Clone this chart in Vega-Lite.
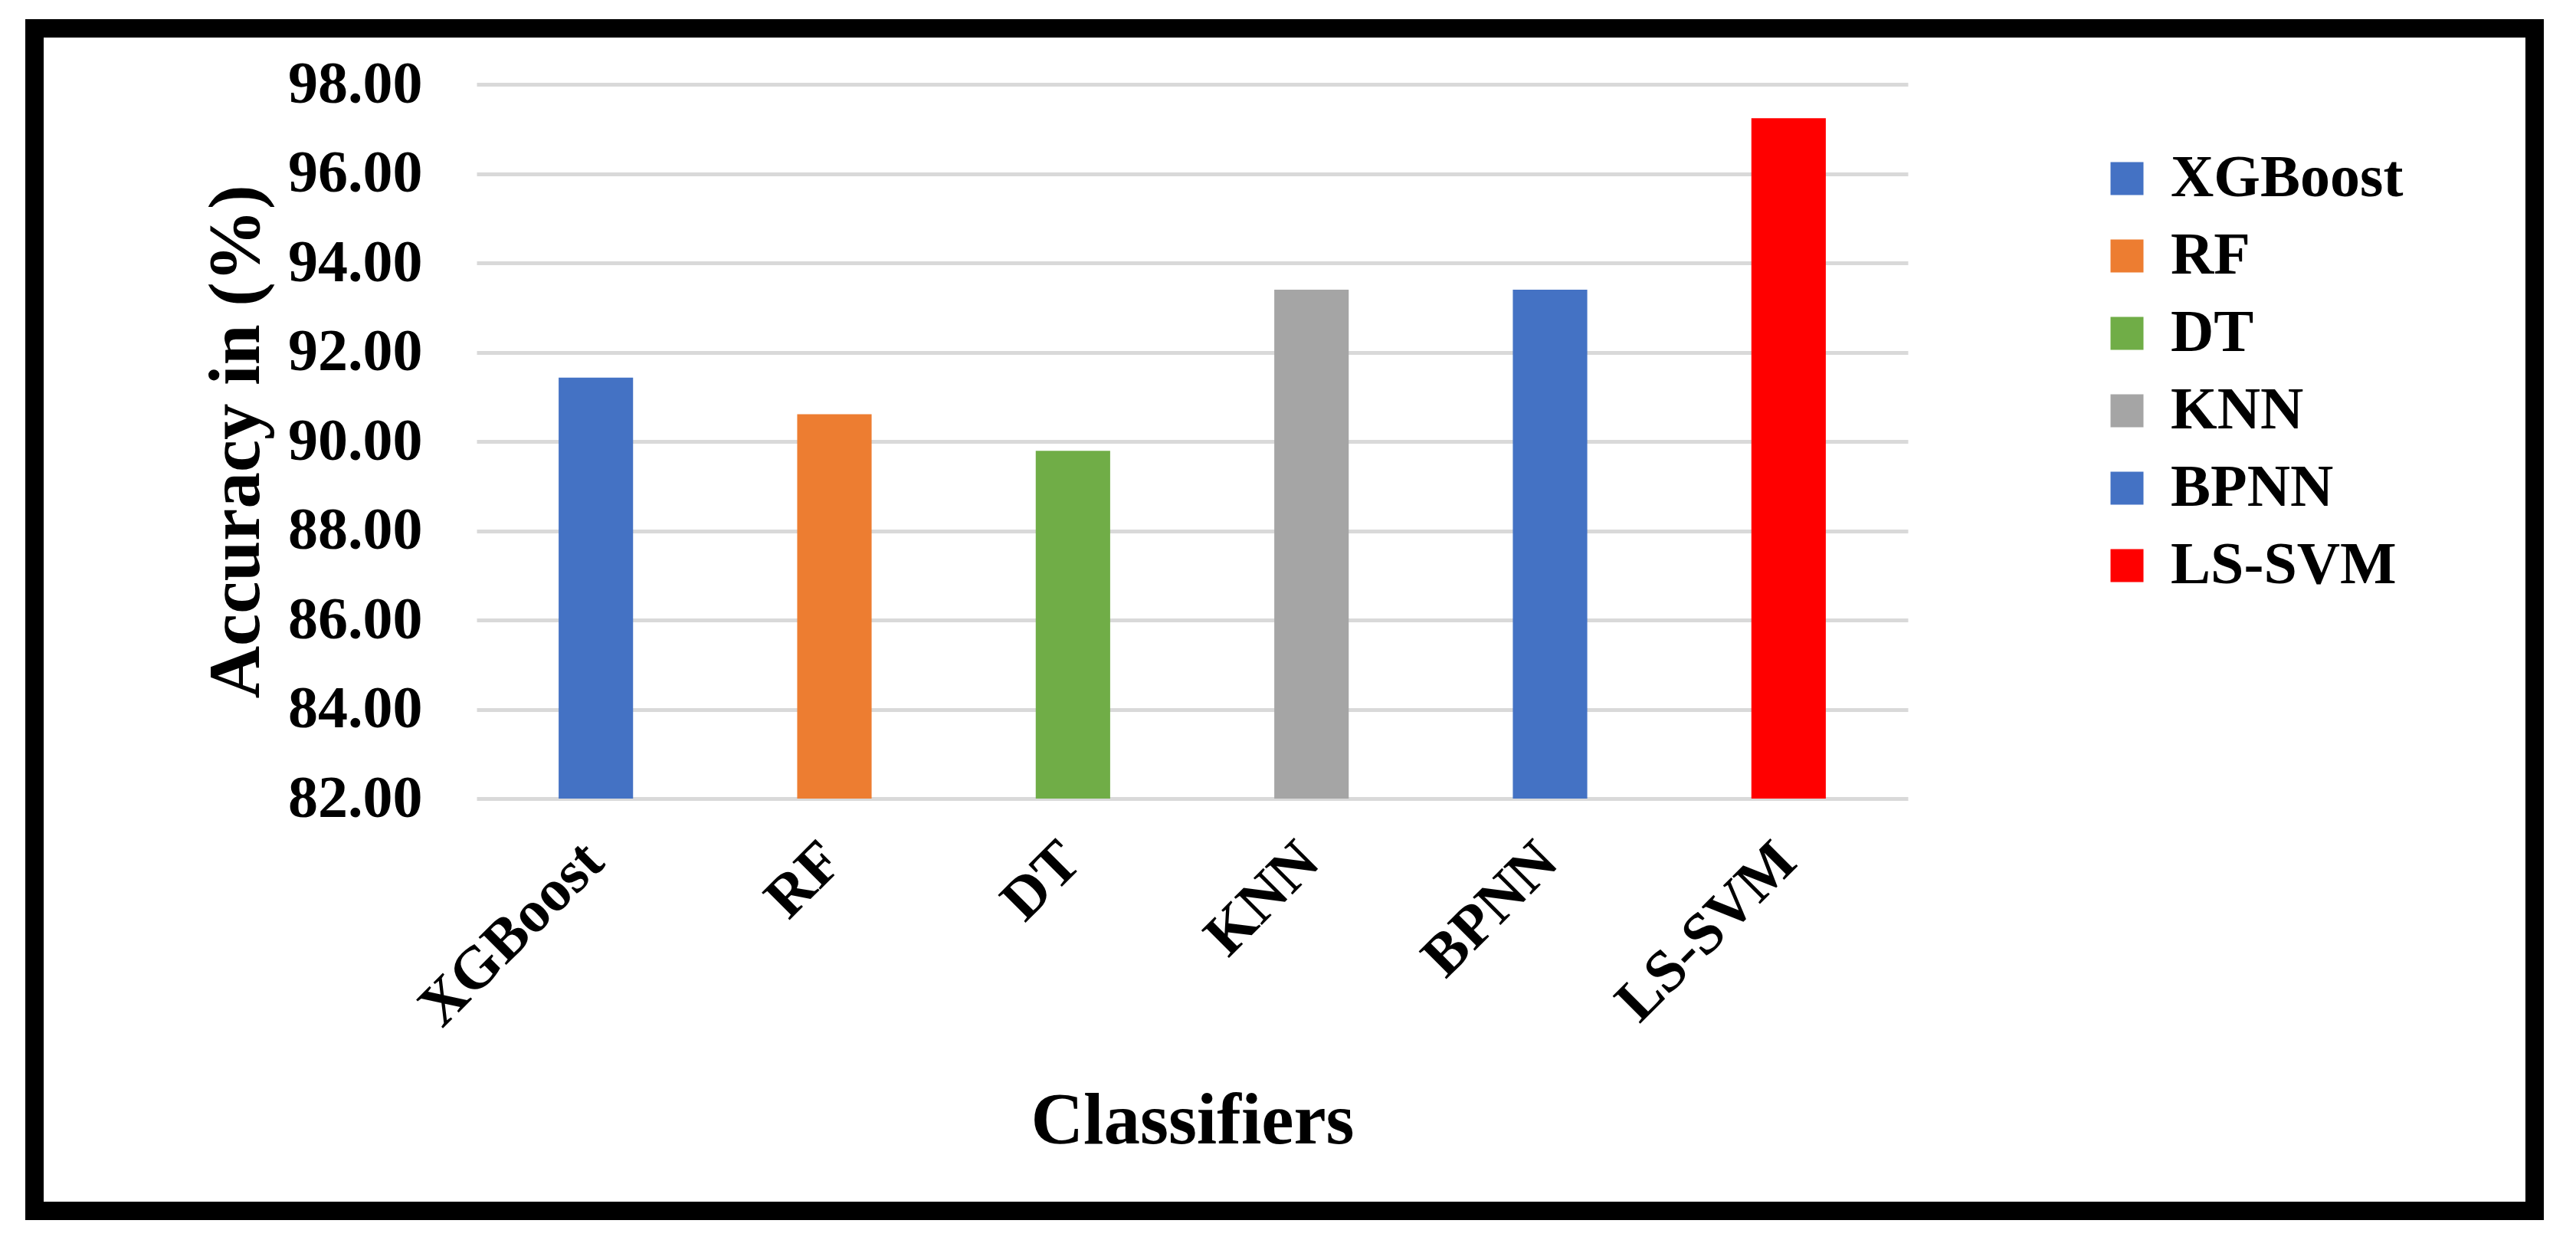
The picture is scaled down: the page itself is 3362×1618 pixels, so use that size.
{
  "$schema": "https://vega.github.io/schema/vega-lite/v6.json",
  "autosize": {"type": "none"},
  "padding": {"left": 45, "top": 37, "right": 54, "bottom": 38},
  "background": "white",
  "width": 3263,
  "height": 1543,
  "data": {
    "values": [
      {"classifier": "XGBoost", "accuracy": 91.43},
      {"classifier": "RF", "accuracy": 90.61},
      {"classifier": "DT", "accuracy": 89.79},
      {"classifier": "KNN", "accuracy": 93.40},
      {"classifier": "BPNN", "accuracy": 93.40},
      {"classifier": "LS-SVM", "accuracy": 97.24}
    ]
  },
  "mark": {"type": "bar"},
  "encoding": {
    "x": {
      "field": "classifier",
      "type": "nominal",
      "sort": null,
      "title": "Classifiers",
      "scale": {"range": [577, 2445], "paddingInner": 0.688, "paddingOuter": 0.344},
      "axis": {
        "orient": "bottom",
        "offset": -538,
        "domain": false,
        "ticks": false,
        "grid": false,
        "labelAngle": -45,
        "labelPadding": 42,
        "labelOffset": -30,
        "labelFontSize": 78,
        "labelLimit": 0,
        "titleFontSize": 95,
        "titleBaseline": "alphabetic",
        "titleY": 449
      }
    },
    "y": {
      "field": "accuracy",
      "type": "quantitative",
      "title": "Accuracy in (%)",
      "scale": {"domain": [82, 98], "range": [1005, 73], "nice": false, "zero": false},
      "axis": {
        "orient": "left",
        "offset": -577,
        "values": [82, 84, 86, 88, 90, 92, 94, 96, 98],
        "format": ".2f",
        "domain": false,
        "ticks": false,
        "tickSize": 0,
        "grid": true,
        "gridColor": "#d9d9d9",
        "gridWidth": 5,
        "labelPadding": 71,
        "labelFontSize": 78,
        "titleFontSize": 95,
        "titleBaseline": "middle",
        "titleX": -314
      }
    },
    "y2": {"datum": 82},
    "color": {
      "field": "classifier",
      "type": "nominal",
      "sort": null,
      "scale": {
        "domain": ["XGBoost", "RF", "DT", "KNN", "BPNN", "LS-SVM"],
        "range": ["#4472c4", "#ed7d31", "#70ad47", "#a5a5a5", "#4472c4", "#ff0000"]
      },
      "legend": {
        "title": null,
        "orient": "none",
        "legendX": 2692,
        "legendY": 157,
        "padding": 0,
        "symbolType": "square",
        "symbolSize": 1849,
        "symbolStrokeWidth": 0,
        "labelFontSize": 78,
        "labelOffset": 18,
        "rowPadding": 23
      }
    }
  },
  "config": {
    "font": "Liberation Serif",
    "view": {"stroke": "black", "strokeWidth": 24, "fill": "white"},
    "axis": {
      "labelFont": "Liberation Serif",
      "labelFontWeight": "bold",
      "labelColor": "black",
      "titleFont": "Liberation Serif",
      "titleFontWeight": "bold",
      "titleColor": "black"
    },
    "legend": {
      "labelFont": "Liberation Serif",
      "labelFontWeight": "bold",
      "labelColor": "black",
      "labelLimit": 0
    }
  }
}
